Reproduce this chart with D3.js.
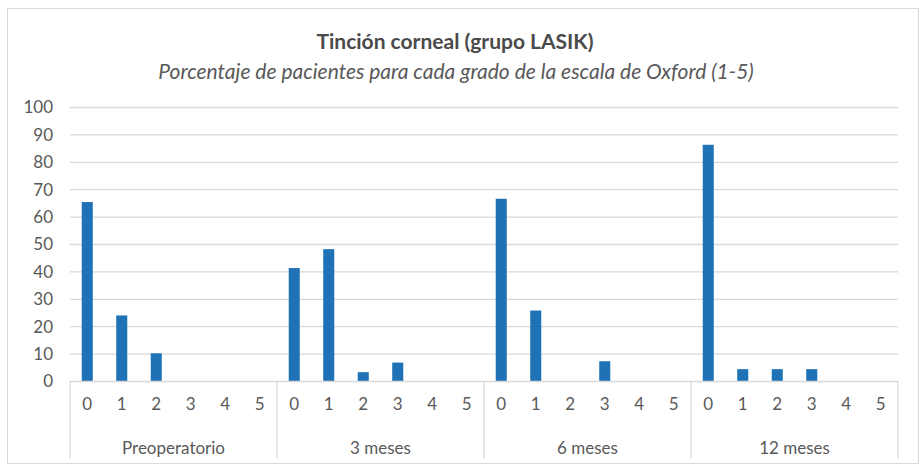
<!DOCTYPE html>
<html>
<head>
<meta charset="utf-8">
<style>
  body { margin: 0; background: #fff; }
  svg { font-family: Lato, "Open Sans", sans-serif; }
  .grid line { stroke: #d9d9d9; stroke-width: 1.3; }
  .ylab { fill: #595959; font-size: 17px; }
  .xlab { fill: #595959; font-size: 17px; }
</style>
</head>
<body>
<svg width="921" height="466"></svg>
<script src="https://d3js.org/d3.v7.min.js"></script>
<script>
// data
var periods = ["Preoperatorio", "3 meses", "6 meses", "12 meses"];
var grades = ["0", "1", "2", "3", "4", "5"];
var preop = [65.5, 24.1, 10.3, 0, 0, 0];
var meses3 = [41.4, 48.3, 3.4, 6.9, 0, 0];
var meses6 = [66.7, 25.9, 0, 7.4, 0, 0];
var meses12 = [86.4, 4.5, 4.5, 4.5, 0, 0];
var yTicks = [0, 10, 20, 30, 40, 50, 60, 70, 80, 90, 100];

var series = [preop, meses3, meses6, meses12];
var data = [];
periods.forEach(function (p, i) {
    grades.forEach(function (g, j) {
        data.push({ period: p, grade: g, key: p + "|" + g, value: series[i][j] });
    });
});

var svg = d3.select("svg");
var margin = { top: 107.5, left: 70, right: 23, bottom: 84.5 };
var width = 921 - margin.left - margin.right,
    height = 466 - margin.top - margin.bottom;

// chart frame
svg.append("rect")
    .attr("x", 7.5).attr("y", 8.5)
    .attr("width", 911).attr("height", 455)
    .attr("fill", "#fff")
    .attr("stroke", "#d9d9d9");

svg.append("text")
    .attr("x", 455).attr("y", 49)
    .attr("text-anchor", "middle")
    .style("font-size", "21px").style("font-weight", "bold")
    .attr("fill", "#4a4a4a")
    .text("Tinción corneal (grupo LASIK)");

svg.append("text")
    .attr("x", 456).attr("y", 79)
    .attr("text-anchor", "middle")
    .style("font-size", "21px").style("font-style", "italic")
    .attr("fill", "#595959")
    .text("Porcentaje de pacientes para cada grado de la escala de Oxford (1-5)");

var g = svg.append("g").attr("transform", "translate(" + margin.left + "," + margin.top + ")");

var x = d3.scaleBand().domain(data.map(function (d) { return d.key; }))
    .range([0, width]).paddingInner(0.68).paddingOuter(0.34);
var xp = d3.scaleBand().domain(periods).range([0, width]);
var y = d3.scaleLinear().domain([0, 100]).range([height, 0]);

// gridlines
g.append("g").attr("class", "grid")
    .selectAll("line").data(yTicks.slice(1)).enter().append("line")
    .attr("x1", 0).attr("x2", width)
    .attr("y1", function (d) { return y(d); })
    .attr("y2", function (d) { return y(d); });

// y labels
g.selectAll(".ylab").data(yTicks).enter().append("text")
    .attr("class", "ylab")
    .attr("x", -17)
    .attr("y", function (d) { return y(d); })
    .attr("dy", "0.35em")
    .attr("text-anchor", "end")
    .text(function (d) { return d; });

// bars
g.selectAll(".bar").data(data).enter().append("rect")
    .attr("class", "bar")
    .attr("fill", "#1f72b6")
    .attr("x", function (d) { return x(d.key); })
    .attr("width", x.bandwidth())
    .attr("y", function (d) { return y(d.value); })
    .attr("height", function (d) { return height - y(d.value); });

// category axis
g.append("line")
    .attr("x1", 0).attr("x2", width)
    .attr("y1", height).attr("y2", height)
    .attr("stroke", "#d9d9d9").attr("stroke-width", 1.3);

var seps = periods.map(function (p) { return xp(p); }).concat([width]);
g.selectAll(".sep").data(seps).enter().append("line")
    .attr("x1", function (d) { return d; }).attr("x2", function (d) { return d; })
    .attr("y1", height).attr("y2", height + 77)
    .attr("stroke", "#d9d9d9").attr("stroke-width", 1.3);

g.selectAll(".xlab").data(data).enter().append("text")
    .attr("class", "xlab")
    .attr("x", function (d) { return x(d.key) + x.bandwidth() / 2; })
    .attr("y", height + 28)
    .attr("text-anchor", "middle")
    .text(function (d) { return d.grade; });

g.selectAll(".plab").data(periods).enter().append("text")
    .attr("class", "xlab")
    .attr("x", function (d) { return xp(d) + xp.bandwidth() / 2; })
    .attr("y", height + 72)
    .attr("text-anchor", "middle")
    .text(function (d) { return d; });
</script>
</body>
</html>
